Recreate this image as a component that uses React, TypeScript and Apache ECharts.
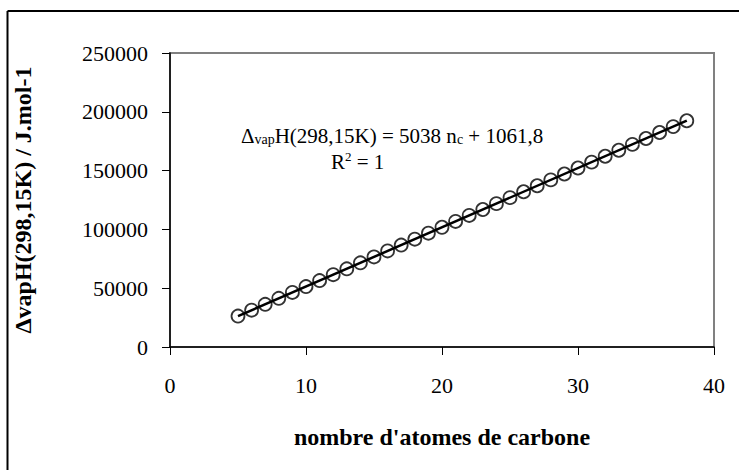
import React, { useEffect, useRef } from "react";
import * as echarts from "echarts";

const carbonCounts = [5, 6, 7, 8, 9, 10, 11, 12, 13, 14, 15, 16, 17, 18, 19, 20, 21, 22, 23, 24, 25, 26, 27, 28, 29, 30, 31, 32, 33, 34, 35, 36, 37, 38];
const enthalpies = [26300, 31300, 36300, 41400, 46400, 51400, 56500, 61500, 66500, 71600, 76600, 81700, 86700, 91700, 96800, 101800, 106800, 111900, 116900, 121900, 127000, 132000, 137100, 142100, 147100, 152200, 157200, 162200, 167300, 172300, 177300, 182400, 187400, 192400];
const trendX = [5, 38];
const trendY = [26250, 192500];
const xTicks = [0, 10, 20, 30, 40];
const yTicks = [0, 50000, 100000, 150000, 200000, 250000];

const FONT = "'Liberation Serif', 'Times New Roman', serif";

export default function App() {
  const ref = useRef<HTMLDivElement>(null);
  useEffect(() => {
    if (!ref.current) return;
    const chart = echarts.init(ref.current, null, { renderer: "svg" });
    chart.setOption({
      animation: false,
      backgroundColor: "#fff",
      grid: { left: 170, right: 25, top: 53, bottom: 123, show: true, borderColor: "#808080", borderWidth: 2 },
      xAxis: {
        type: "value",
        min: xTicks[0],
        max: xTicks[xTicks.length - 1],
        interval: 10,
        name: "nombre d'atomes de carbone",
        nameLocation: "middle",
        nameGap: 78,
        nameTextStyle: { fontFamily: FONT, fontSize: 24, fontWeight: "bold", color: "#000" },
        axisLine: { lineStyle: { color: "#000", width: 1.5 } },
        axisTick: { show: true, length: 8, lineStyle: { color: "#000", width: 1 } },
        axisLabel: { fontFamily: FONT, fontSize: 22, color: "#000", margin: 27 },
        splitLine: { show: false },
      },
      yAxis: {
        type: "value",
        min: yTicks[0],
        max: yTicks[yTicks.length - 1],
        interval: 50000,
        name: "ΔvapH(298,15K) / J.mol-1",
        nameLocation: "middle",
        nameGap: 135,
        nameRotate: 90,
        nameTextStyle: { fontFamily: FONT, fontSize: 24, fontWeight: "bold", color: "#000" },
        axisLine: { show: true, lineStyle: { color: "#000", width: 1.5 } },
        axisTick: { show: true, length: 8, lineStyle: { color: "#000", width: 1 } },
        axisLabel: { fontFamily: FONT, fontSize: 22, color: "#000", margin: 22, formatter: (v: number) => String(v) },
        splitLine: { show: false },
      },
      series: [
        {
          type: "line",
          data: trendX.map((x, i) => [x, trendY[i]]),
          symbol: "none",
          lineStyle: { color: "#000", width: 2.5 },
          z: 2,
        },
        {
          type: "scatter",
          data: carbonCounts.map((x, i) => [x, enthalpies[i]]),
          symbol: "circle",
          symbolSize: 13,
          itemStyle: { color: "rgba(0,0,0,0)", borderColor: "#000", borderWidth: 1.8 },
          z: 3,
        },
      ],
      graphic: [
        { type: "line", shape: { x1: 7.5, y1: 11, x2: 739, y2: 11 }, style: { stroke: "#000", lineWidth: 2 } },
        { type: "line", shape: { x1: 7.5, y1: 11, x2: 7.5, y2: 470 }, style: { stroke: "#000", lineWidth: 2 } },
        {
          type: "text",
          left: 241,
          top: 125,
          style: {
            text: "{n|Δ}{s|vap}{n|H(298,15K) = 5038 n}{s|c}{n| + 1061,8}",
            rich: {
              n: { fontFamily: FONT, fontSize: 21, fill: "#000" },
              s: { fontFamily: FONT, fontSize: 14, fill: "#000", padding: [7, 0, 0, 0] },
            },
          },
        },
        {
          type: "text",
          left: 331,
          top: 150,
          style: {
            text: "{n|R}{p|2}{n| = 1}",
            rich: {
              n: { fontFamily: FONT, fontSize: 21, fill: "#000" },
              p: { fontFamily: FONT, fontSize: 13, fill: "#000", padding: [0, 0, 11, 0] },
            },
          },
        },
      ],
    });
    return () => chart.dispose();
  }, []);
  return <div ref={ref} style={{ position: "fixed", left: 0, top: 0, width: 739, height: 470 }} />;
}
